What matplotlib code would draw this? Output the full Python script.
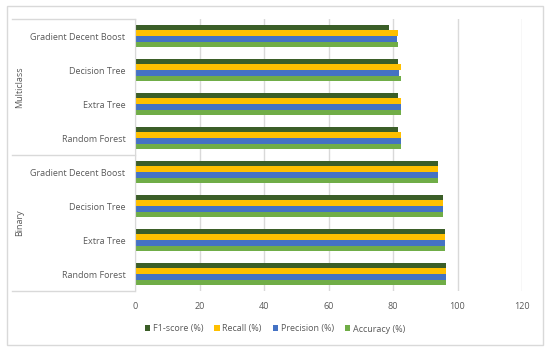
import numpy as np
import matplotlib.pyplot as plt
from matplotlib.patches import Rectangle
from matplotlib.transforms import blended_transform_factory

# categories, top to bottom
models = ['Gradient Decent Boost', 'Decision Tree', 'Extra Tree', 'Random Forest']
groups = ['Multiclass', 'Binary']

# values per metric: multiclass (4 models) followed by binary (4 models)
f1_score = [78.9, 81.4, 81.4, 81.4, 94.1, 95.5, 96.1, 96.3]
recall = [81.4, 82.5, 82.5, 82.5, 94.1, 95.5, 96.1, 96.3]
precision = [81.2, 82.0, 82.5, 82.5, 94.1, 95.5, 96.1, 96.3]
accuracy = [81.4, 82.5, 82.5, 82.5, 94.1, 95.5, 96.1, 96.3]

series = [('F1-score (%)', f1_score, '#3b5e28'),
          ('Recall (%)', recall, '#ffc000'),
          ('Precision (%)', precision, '#4472c4'),
          ('Accuracy (%)', accuracy, '#70ad47')]

plt.rcParams['font.family'] = ['Open Sans', 'DejaVu Sans']
txt = '#595959'
grid = '#d9d9d9'

fig = plt.figure(figsize=(5.5, 3.51), dpi=100)
ax = fig.add_axes([135 / 550, 1 - 291 / 351, 387 / 550, 272 / 351])

# outer chart border
fig.patches.append(Rectangle((7 / 550, 6 / 351), 536 / 550, 339 / 351,
                             transform=fig.transFigure, fill=False,
                             edgecolor=grid, linewidth=1))

n = len(f1_score)
y = np.arange(n)
bh = 0.165
for i, (label, vals, col) in enumerate(series):
    ax.barh(y - 1.5 * bh + i * bh, vals, height=bh, color=col, label=label)

ax.set_xlim(0, 120)
ax.set_ylim(n - 0.5, -0.5)
ax.set_xticks(range(0, 121, 20))
ax.set_yticks(y)
ax.set_yticklabels(models * 2)
ax.tick_params(axis='both', length=0, labelsize=6.5, colors=txt)
ax.tick_params(axis='y', pad=7)
ax.tick_params(axis='x', pad=8)
ax.xaxis.grid(True, color=grid, linewidth=1)
ax.set_axisbelow(True)
for s in ['top', 'right', 'bottom']:
    ax.spines[s].set_visible(False)
ax.spines['left'].set_color(grid)

# group separators and group labels
tr = blended_transform_factory(ax.transAxes, ax.transData)
for yy in [-0.5, 3.5, 7.5]:
    ax.plot([-123 / 387, 0], [yy, yy], transform=tr, color=grid,
            linewidth=1, clip_on=False)
for k, g in enumerate(groups):
    ax.text(-115 / 387, 1.5 + 4 * k, g, transform=tr, rotation=90,
            ha='center', va='center', fontsize=6.5, color=txt)

fig.legend(loc='center', bbox_to_anchor=(0.5, 1 - 329 / 351), ncol=4,
           frameon=False, fontsize=6.5, handlelength=0.6, handleheight=0.6,
           handletextpad=0.3, columnspacing=1.2, labelcolor=txt)

fig.savefig('out.png', dpi=100)
